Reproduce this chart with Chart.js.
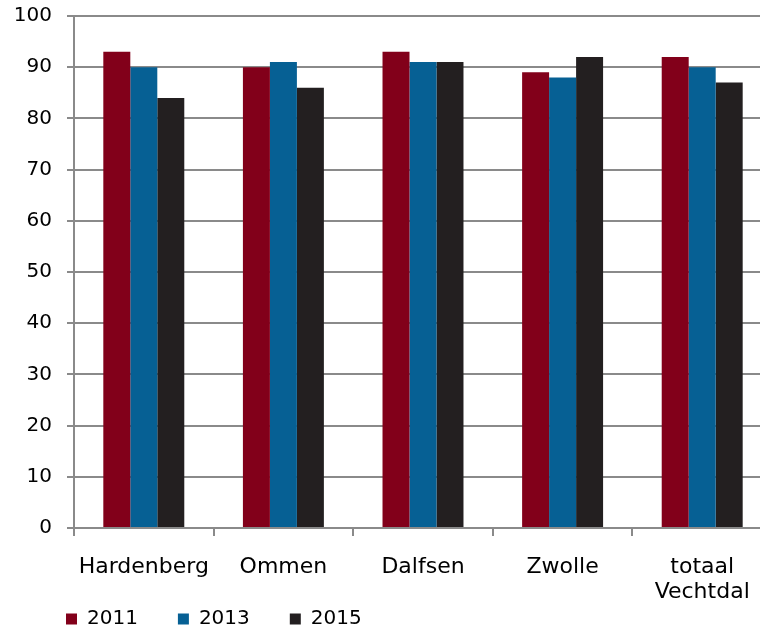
<!DOCTYPE html>
<html>
<head>
<meta charset="utf-8">
<script src="https://cdn.jsdelivr.net/npm/chart.js@4/dist/chart.umd.min.js"></script>
<style>
  html, body { margin: 0; padding: 0; background: #fff; overflow: hidden; }
  #wrap { width: 760px; height: 629px; overflow: hidden; position: relative; }
  #box { width: 772px; height: 629px; position: absolute; left: 0; top: 0; }
</style>
</head>
<body>
<div id="wrap"><div id="box"><canvas id="c"></canvas></div></div>
<script>
const categories = ['Hardenberg', 'Ommen', 'Dalfsen', 'Zwolle', ['totaal', 'Vechtdal']];
const seriesNames = ['2011', '2013', '2015'];
const values2011 = [93, 90, 93, 89, 92];
const values2013 = [90, 91, 91, 88, 90];
const values2015 = [84, 86, 91, 92, 87];
const yTicks = [0, 10, 20, 30, 40, 50, 60, 70, 80, 90, 100];

const colors = ['#82001a', '#066094', '#231f20'];
const gridColor = '#8a8a8a';
const FONT = "'DejaVu Sans', Verdana, sans-serif";

const legendMover = {
  id: 'legendMover',
  afterLayout(chart) {
    const lg = chart.legend;
    const h = 80;
    lg.left = 26; lg.right = 26 + 700;
    lg.top = 569; lg.bottom = lg.top + h;
    lg.width = 700; lg.height = h;
  }
};

new Chart(document.getElementById('c'), {
  type: 'bar',
  data: {
    labels: categories,
    datasets: [
      { label: seriesNames[0], data: values2011, backgroundColor: colors[0] },
      { label: seriesNames[1], data: values2013, backgroundColor: colors[1] },
      { label: seriesNames[2], data: values2015, backgroundColor: colors[2] }
    ]
  },
  options: {
    responsive: true,
    maintainAspectRatio: false,
    animation: false,
    devicePixelRatio: 1,
    layout: { padding: { left: 14, top: 16, right: 0, bottom: 23 } },
    datasets: { bar: { categoryPercentage: 0.58, barPercentage: 1.0, borderWidth: 0 } },
    plugins: {
      tooltip: { enabled: false },
      legend: {
        position: 'bottom',
        align: 'start',
        maxHeight: 1,
        labels: {
          boxWidth: 11, boxHeight: 11, padding: 40,
          color: '#000',
          font: { family: FONT, size: 20 }
        }
      }
    },
    scales: {
      x: {
        offset: true,
        grid: { display: true, drawOnChartArea: false, drawTicks: true, tickLength: 8, offset: true, color: gridColor, lineWidth: 2 },
        border: { display: true, color: gridColor, width: 2 },
        ticks: {
          color: '#000', font: { family: FONT, size: 22, lineHeight: 25 / 22 },
          padding: 19, maxRotation: 0, minRotation: 0, autoSkip: false
        },
        afterFit(scale) { scale.height = 77; scale.paddingLeft = 0; scale.paddingRight = 0; }
      },
      y: {
        min: 0, max: 100,
        afterBuildTicks(scale) { scale.ticks = yTicks.map(v => ({ value: v })); },
        grid: { color: gridColor, lineWidth: 2, tickLength: 7, drawTicks: true },
        border: { display: true, color: gridColor, width: 2 },
        ticks: { color: '#000', font: { family: FONT, size: 20 }, padding: 15 },
        afterFit(scale) { scale.width = 60; scale.paddingTop = 0; scale.paddingBottom = 0; }
      }
    }
  },
  plugins: [legendMover]
});
</script>
</body>
</html>
